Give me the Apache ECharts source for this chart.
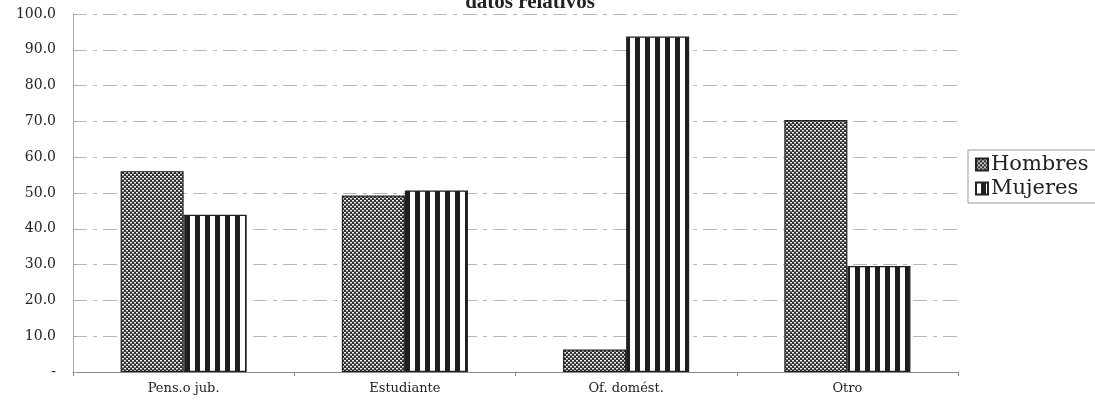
<!DOCTYPE html>
<html>
<head>
<meta charset="utf-8">
<script src="https://cdn.jsdelivr.net/npm/echarts@6/dist/echarts.min.js"></script>
<style>
  html, body { margin: 0; padding: 0; background: #fff; overflow: hidden; }
  #chart { width: 1095px; height: 400px; }
</style>
</head>
<body>
<div id="chart"></div>
<script>
// Categories and percentage values per sex
const categories = ['Pens.o jub.', 'Estudiante', 'Of. domést.', 'Otro'];
const hombres = [56.1, 49.3, 6.3, 70.4];
const mujeres = [43.9, 50.7, 93.7, 29.6];
const yTicks = [0, 10, 20, 30, 40, 50, 60, 70, 80, 90, 100];

// Fine dotted-check fill used for "Hombres"
function checkerPattern() {
  const c = document.createElement('canvas');
  c.width = 4; c.height = 4;
  const g = c.getContext('2d');
  g.fillStyle = '#2f2f2f';
  g.fillRect(0, 0, 4, 4);
  g.fillStyle = '#f2f2f2';
  g.fillRect(0, 0, 2, 1);
  g.fillRect(2, 2, 2, 1);
  g.fillStyle = '#8a8a8a';
  g.fillRect(0, 1, 2, 1);
  g.fillRect(2, 3, 2, 1);
  return c;
}

// Vertical black / white stripes used for "Mujeres"
function stripePattern() {
  const c = document.createElement('canvas');
  c.width = 10; c.height = 10;
  const g = c.getContext('2d');
  g.fillStyle = '#ffffff';
  g.fillRect(0, 0, 10, 10);
  g.fillStyle = '#1e1e1e';
  g.fillRect(5, 0, 5, 10);
  return c;
}

const chart = echarts.init(document.getElementById('chart'), null, { renderer: 'canvas' });
const serif = '"DejaVu Serif", "Liberation Serif", serif';

chart.setOption({
  animation: false,
  backgroundColor: '#ffffff',
  title: {
    text: 'datos relativos',
    left: 525,
    textAlign: 'center',
    top: -13,
    textStyle: { fontFamily: '"Liberation Serif", serif', fontWeight: 'bold', fontSize: 21, color: '#222' }
  },
  legend: {
    data: ['Hombres', 'Mujeres'],
    orient: 'vertical',
    left: 968,
    top: 150,
    padding: [4, 30, 4, 7],
    itemGap: 3,
    itemWidth: 12,
    itemHeight: 12,
    icon: 'rect',
    borderColor: '#999',
    borderWidth: 1,
    borderRadius: 0,
    textStyle: { fontFamily: serif, fontSize: 21, color: '#222', padding: [0, 0, 0, -2] }
  },
  grid: { left: 73, right: 137, top: 14, bottom: 28, containLabel: false },
  xAxis: {
    type: 'category',
    data: categories,
    axisLine: { lineStyle: { color: '#888', width: 1 } },
    axisTick: { show: true, alignWithLabel: false, length: 4, lineStyle: { color: '#888' } },
    axisLabel: { fontFamily: serif, fontSize: 13, color: '#222', margin: 10 },
    splitLine: { show: false }
  },
  yAxis: {
    type: 'value',
    min: yTicks[0],
    max: yTicks[yTicks.length - 1],
    interval: 10,
    axisLine: { show: true, lineStyle: { color: '#aaa', width: 1 } },
    axisTick: { show: true, length: 4, inside: true, lineStyle: { color: '#aaa' } },
    axisLabel: {
      fontFamily: serif, fontSize: 14, color: '#222', margin: 17,
      formatter: v => (v === 0 ? '-' : v.toFixed(1))
    },
    splitLine: { show: true, lineStyle: { color: '#b8b8b8', type: [14, 6, 4, 6], width: 1 } }
  },
  series: [
    {
      name: 'Hombres',
      type: 'bar',
      data: hombres,
      barGap: '0%',
      barCategoryGap: '43%',
      itemStyle: {
        color: { image: checkerPattern(), repeat: 'repeat' },
        borderColor: '#222',
        borderWidth: 1.2
      }
    },
    {
      name: 'Mujeres',
      type: 'bar',
      data: mujeres,
      itemStyle: {
        color: { image: stripePattern(), repeat: 'repeat' },
        borderColor: '#222',
        borderWidth: 1.2
      }
    }
  ]
});
</script>
</body>
</html>
